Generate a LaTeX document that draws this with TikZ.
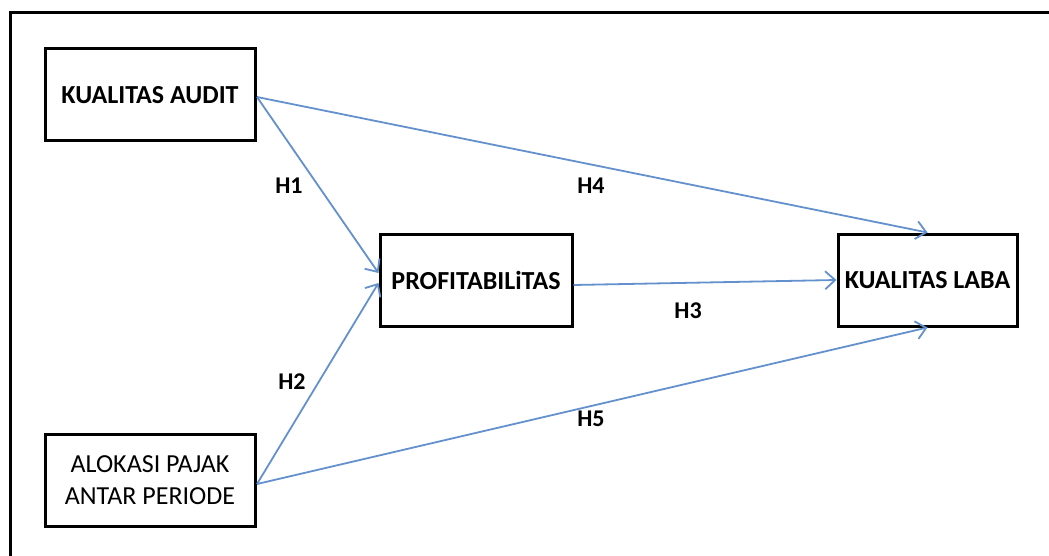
\documentclass[tikz,border=0pt]{standalone}
\usepackage{fontspec}
\setmainfont{Carlito}
\usetikzlibrary{arrows.meta}
\definecolor{arrowblue}{RGB}{100,145,205}
\tikzset{
  box/.style={draw=black, line width=3pt, minimum width=#1, minimum height=92pt, inner sep=0pt, align=center, font=\fontsize{26}{32}\selectfont},
  link/.style={draw=arrowblue, line width=1.8pt, -{Straight Barb[length=10pt,width=18pt,line width=1.8pt]}},
  hlabel/.style={font=\fontsize{24}{28}\selectfont\bfseries}
}
\begin{document}
\begin{tikzpicture}[x=1pt,y=-1pt]
\useasboundingbox (0,0) rectangle (1049,556);
\clip (0,0) rectangle (1049,556);
\fill[white] (0,0) rectangle (1049,556);
\draw[line width=3pt] (10,580) -- (10,13) -- (1070,13);
\node[box=210pt] (ka) at (150,95) {\bfseries KUALITAS AUDIT};
\node[box=210pt] (ap) at (150,480) {ALOKASI PAJAK\\ANTAR PERIODE};
\node[box=192pt] (pr) at (476,280) {\bfseries PROFITABILiTAS};
\node[box=179pt] (kl) at (927.5,280) {\bfseries KUALITAS LABA};
\coordinate (kaE) at (257,97);
\coordinate (apE) at (257,484);
\draw[link] (kaE) -- (pr.west |- 0,273);
\draw[link] (apE) -- (pr.west |- 0,283);
\draw[link] (kaE) -- (kl.north);
\draw[link] (apE) -- (kl.south);
\draw[link] (pr.east |- 0,285) -- (kl.west |- 0,280);
\node[hlabel] (h1) at (289,186) {H1};
\node[hlabel] (h4) at (591,186) {H4};
\node[hlabel] (h3) at (688,311) {H3};
\node[hlabel] (h2) at (292,382) {H2};
\node[hlabel] (h5) at (591,419) {H5};
\end{tikzpicture}
\end{document}
